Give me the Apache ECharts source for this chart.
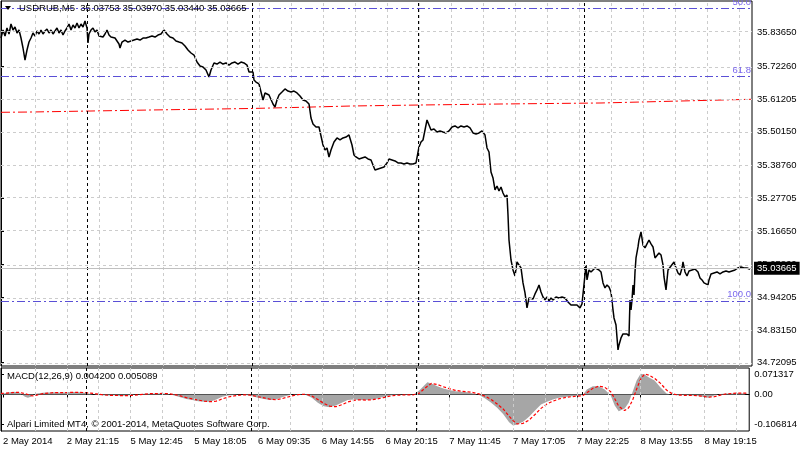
<!DOCTYPE html>
<html><head><meta charset="utf-8">
<script src="https://cdn.jsdelivr.net/npm/echarts@6/dist/echarts.min.js"></script>
<style>html,body{margin:0;padding:0;background:#fff}#c{width:800px;height:450px}</style>
</head><body><div id="c"></div>
<script>
// ---------- data ----------
const symbolTitle = 'USDRUB,M5  35.03753 35.03970 35.03440 35.03665';
const lastClose = 35.03665;
const tickLabels = ['2 May 2014','2 May 21:15','5 May 12:45','5 May 18:05','6 May 09:35','6 May 14:55','6 May 20:15','7 May 11:45','7 May 17:05','7 May 22:25','8 May 13:55','8 May 19:15'];
const tickBars = [2,66,130,194,258,322,386,450,514,578,642,706];
const daySeparatorBars = [86,251,417,583];
const priceTicks = [35.83650,35.72260,35.61205,35.50150,35.38760,35.27705,35.16650,35.05260,34.94205,34.83150,34.72095];
const macdTicks = [0.071317,0,-0.106814];
const fibLevels = [35.9183,35.6885,34.9311];
const fibLabels = ['50.0','61.8','100.0'];

const priceBars = [
 0,2,4,6,8,10,12,14,16,18,20,22,24,26,28,30,32,34,36,38,40,42,44,46,48,50,52,54,56,58,60,62,64,66,68,70,72,74,76,78,80,82,84,86,
 87,88,90,92,94,96,98,100,102,104,106,108,110,112,114,116,118,119,121,124,127,130,133,136,139,142,145,148,151,154,157,160,163,166,169,172,175,178,181,184,187,190,193,196,199,202,205,208,210,213,216,219,222,225,228,231,234,237,240,243,246,248,250,252,
 253,255,258,260,262,264,266,268,270,272,274,276,278,281,284,287,290,293,296,299,302,305,308,310,312,315,318,320,322,324,326,328,330,333,336,339,342,345,348,351,353,355,358,361,364,367,370,372,374,377,380,383,386,388,391,394,397,400,403,406,409,412,415,417,
 418,420,422,424,426,428,430,433,436,439,442,445,448,451,454,457,460,463,466,469,472,475,478,481,484,486,488,490,492,494,496,498,500,502,504,506,507,508,510,512,514,516,518,520,522,524,526,528,530,532,534,536,538,540,542,544,546,548,550,552,555,558,561,564,567,570,573,576,579,581,583,
 585,586,588,590,592,594,596,598,600,602,604,606,608,610,612,613,615,617,618,620,622,624,626,628,629,630,631,632,633,634,635,637,638,640,642,644,646,648,650,652,654,656,658,660,662,663,665,667,670,673,675,677,679,681,682,684,686,688,691,694,697,699,701,703,705,707,708,710,713,716,719,722,725,728,731,734,737,740,743,746,749
];
const priceValues = [
 35.8186,35.8456,35.8253,35.8524,35.8321,35.8659,35.8456,35.8557,35.8355,35.8456,35.8186,35.7848,35.7442,35.7780,35.8050,35.8186,35.8355,35.8253,35.8422,35.8321,35.8456,35.8321,35.8422,35.8490,35.8355,35.8456,35.8321,35.8422,35.8524,35.8355,35.8456,35.8287,35.8422,35.8524,35.8659,35.8456,35.8625,35.8524,35.8693,35.8524,35.8659,35.8557,35.8760,35.8524,
 35.8017,35.8321,35.8456,35.8524,35.8388,35.8456,35.8253,35.8186,35.8219,35.8321,35.8456,35.8287,35.8219,35.8253,35.8186,35.8219,35.7983,35.7848,35.8050,35.8118,35.8050,35.8084,35.8118,35.8152,35.8118,35.8186,35.8186,35.8219,35.8253,35.8219,35.8287,35.8321,35.8456,35.8321,35.8219,35.8186,35.8084,35.8050,35.8017,35.7915,35.7780,35.7679,35.7611,35.7374,35.7239,35.7205,35.7104,35.6867,35.7104,35.7341,35.7307,35.7374,35.7307,35.7341,35.7273,35.7341,35.7374,35.7307,35.7374,35.7341,35.7273,35.7036,35.6969,35.7036,
 35.6766,35.6698,35.6631,35.6597,35.6090,35.6327,35.6360,35.6259,35.6225,35.5955,35.5853,35.6090,35.6259,35.6360,35.6462,35.6394,35.6360,35.6394,35.6327,35.6225,35.6090,35.6056,35.5955,35.5482,35.5279,35.5177,35.5177,35.5144,35.4569,35.4400,35.4468,35.4163,35.4400,35.4670,35.4806,35.4738,35.4806,35.4839,35.4907,35.4569,35.4231,35.4163,35.4096,35.4130,35.4163,35.4096,35.4062,35.3893,35.3724,35.3758,35.3792,35.3825,35.3961,35.4096,35.4062,35.4028,35.3961,35.3961,35.3927,35.3961,35.3927,35.3927,35.3961,35.3961,
 35.4501,35.4670,35.4738,35.5076,35.5414,35.5245,35.5076,35.5110,35.5008,35.5042,35.5008,35.4975,35.5042,35.5177,35.5211,35.5144,35.5211,35.5177,35.5211,35.5144,35.4975,35.4941,35.4975,35.5042,35.4907,35.4468,35.4332,35.3656,35.3454,35.3048,35.3183,35.3014,35.3149,35.2947,35.2811,35.2879,35.2203,35.1358,35.0682,35.0344,35.0141,35.0614,35.0513,35.0412,34.9905,34.9567,34.9060,34.9398,34.9465,34.9364,34.9533,34.9668,34.9837,34.9600,34.9431,34.9330,34.9431,34.9296,34.9398,34.9330,34.9431,34.9398,34.9431,34.9398,34.9262,34.9161,34.9161,34.9161,34.9060,34.9195,34.9262,
 35.0513,35.0006,35.0344,35.0276,35.0344,35.0412,35.0412,35.0344,35.0276,34.9905,34.9736,34.9837,34.9769,34.9600,34.8992,34.8722,34.8485,34.7640,34.7809,34.8046,34.8181,34.8147,34.8181,34.8113,34.9330,34.8992,34.9330,34.9837,34.9499,35.0276,35.0750,35.1121,35.1358,35.1628,35.1189,35.1088,35.1223,35.1358,35.1223,35.1121,35.0750,35.0817,35.0919,35.0851,35.0513,35.0107,34.9668,35.0344,35.0479,35.0614,35.0412,35.0243,35.0175,35.0412,35.0614,35.0276,35.0141,35.0310,35.0344,35.0378,35.0276,35.0074,35.0006,34.9905,34.9871,34.9837,35.0006,35.0209,35.0243,35.0276,35.0209,35.0276,35.0310,35.0276,35.0310,35.0344,35.0412,35.0445,35.0412,35.0412,35.03665
];

const maBars = [0,30,90,150,250,300,350,420,500,600,680,750];
const maValues = [35.5674,35.5684,35.5718,35.5752,35.5803,35.5843,35.5887,35.5921,35.5955,35.5989,35.6056,35.6114];

const macdBars = [0,6,12,18,24,27,30,33,36,42,48,54,60,66,72,78,84,90,96,102,108,114,120,126,132,138,144,150,156,162,168,174,180,186,192,198,204,210,216,222,228,234,240,246,252,258,264,270,276,282,288,294,300,306,312,318,324,330,336,342,348,354,360,366,372,378,384,390,396,402,408,414,420,424,428,432,438,444,450,456,462,468,474,480,486,492,498,504,510,514,518,524,530,536,542,548,554,560,566,572,578,584,588,594,600,606,612,616,620,626,630,634,638,642,646,650,656,662,668,674,680,686,692,698,704,710,716,722,728,734,740,746,750];
const macdMain = [0.002,0.006,0.010,0.008,-0.008,-0.012,-0.008,0.000,0.004,0.006,0.007,0.008,0.006,0.008,0.009,0.008,0.006,0.002,-0.002,-0.003,-0.004,-0.003,-0.005,-0.004,-0.002,0.001,0.003,0.003,0.004,0.004,0.002,-0.004,-0.010,-0.016,-0.020,-0.024,-0.026,-0.026,-0.018,-0.008,-0.004,-0.002,0.000,-0.002,-0.006,-0.012,-0.016,-0.020,-0.018,-0.010,-0.004,0.001,0.002,-0.002,-0.012,-0.030,-0.042,-0.046,-0.040,-0.030,-0.020,-0.018,-0.020,-0.020,-0.018,-0.014,-0.008,-0.004,-0.002,-0.001,-0.002,-0.001,0.015,0.030,0.044,0.040,0.030,0.022,0.016,0.012,0.010,0.008,0.004,-0.002,-0.014,-0.030,-0.048,-0.070,-0.100,-0.112,-0.108,-0.098,-0.080,-0.058,-0.036,-0.026,-0.018,-0.012,-0.009,-0.006,-0.005,-0.002,0.018,0.030,0.030,0.018,-0.004,-0.040,-0.060,-0.050,-0.030,0.010,0.050,0.075,0.072,0.062,0.050,0.025,0.004,-0.002,-0.003,-0.002,-0.004,-0.004,-0.008,-0.012,-0.004,0.002,0.004,0.004,0.005,0.004,0.0042];
const macdSignal = [0.004,0.005,0.007,0.008,0.003,0.000,-0.004,-0.005,-0.002,0.003,0.005,0.007,0.007,0.007,0.008,0.008,0.007,0.005,0.002,-0.001,-0.003,-0.003,-0.004,-0.004,-0.003,-0.001,0.001,0.003,0.003,0.004,0.003,0.000,-0.005,-0.011,-0.016,-0.020,-0.024,-0.026,-0.024,-0.016,-0.009,-0.005,-0.002,-0.001,-0.003,-0.008,-0.012,-0.017,-0.019,-0.015,-0.009,-0.003,0.000,0.001,-0.005,-0.018,-0.032,-0.042,-0.044,-0.037,-0.027,-0.021,-0.019,-0.020,-0.019,-0.016,-0.011,-0.006,-0.003,-0.002,-0.001,-0.001,0.005,0.018,0.030,0.040,0.036,0.028,0.021,0.015,0.012,0.010,0.007,0.002,-0.006,-0.018,-0.034,-0.052,-0.078,-0.094,-0.106,-0.104,-0.092,-0.072,-0.050,-0.034,-0.024,-0.016,-0.011,-0.008,-0.006,-0.004,0.006,0.022,0.030,0.026,0.010,-0.015,-0.042,-0.058,-0.048,-0.020,0.020,0.055,0.074,0.070,0.058,0.040,0.016,0.002,-0.002,-0.003,-0.003,-0.004,-0.006,-0.010,-0.008,-0.002,0.002,0.004,0.005,0.005,0.005089];

// ---------- build ----------
const FONT = 'Liberation Sans';
const FS = 9.5;
const zip = (a, b) => a.map((x, i) => [x, b[i]]);
const gridBars = [];
for (let b = 34; b < 751; b += 32) gridBars.push(b);

const grayDash = {color: '#cccccc', type: [3, 3], width: 1};
const blackDash = {color: '#000', type: [3, 3], width: 1};

const mainGuides = [].concat(
  gridBars.map(b => ({xAxis: b, lineStyle: grayDash})),
  priceTicks.map(v => ({yAxis: v, lineStyle: grayDash})),
  daySeparatorBars.map(b => ({xAxis: b, lineStyle: blackDash}))
);
const macdGuides = [].concat(
  gridBars.map(b => ({xAxis: b, lineStyle: grayDash})),
  daySeparatorBars.map(b => ({xAxis: b, lineStyle: blackDash}))
);
const fibMarks = fibLevels.map((v, i) => ({
  yAxis: v,
  lineStyle: {color: '#5a4fd6', type: [8, 3, 2, 3], width: 1},
  label: {show: true, formatter: fibLabels[i], position: 'insideEndTop', distance: 1,
          color: '#7b68ee', fontFamily: FONT, fontSize: FS}
}));
const lastMark = {
  yAxis: lastClose,
  lineStyle: {color: '#c0c0c0', type: 'solid', width: 1},
  label: {show: true, formatter: lastClose.toFixed(5), position: 'end', distance: 2,
          backgroundColor: '#000', color: '#fff', padding: [2, 3, 1, 3],
          fontFamily: FONT, fontSize: FS}
};

const option = {
  animation: false,
  backgroundColor: '#fff',
  textStyle: {fontFamily: FONT},
  grid: [
    {left: 1, right: 48, top: 1, height: 365, show: true, borderColor: '#000', borderWidth: 1, backgroundColor: 'transparent'},
    {left: 1, right: 48, top: 368, height: 63, show: true, borderColor: '#000', borderWidth: 1, backgroundColor: 'transparent'}
  ],
  xAxis: [
    {gridIndex: 0, type: 'value', min: 0, max: 751, show: false},
    {gridIndex: 1, type: 'value', min: 0, max: 751,
     axisLine: {show: true, lineStyle: {color: '#000'}},
     axisTick: {show: true, customValues: tickBars, length: 3, lineStyle: {color: '#000'}},
     axisLabel: {customValues: tickBars, align: 'left', margin: 5, color: '#000', fontFamily: FONT, fontSize: FS,
                 formatter: v => tickLabels[tickBars.indexOf(v)] || ''},
     splitLine: {show: false}}
  ],
  yAxis: [
    {gridIndex: 0, type: 'value', position: 'right', min: 34.7097, max: 35.9437,
     axisLine: {show: true, lineStyle: {color: '#000'}},
     axisTick: {show: true, customValues: priceTicks, length: 3, lineStyle: {color: '#000'}},
     axisLabel: {customValues: priceTicks, margin: 5, color: '#000', fontFamily: FONT, fontSize: FS,
                 formatter: v => v.toFixed(5)},
     splitLine: {show: false}},
    {gridIndex: 1, type: 'value', position: 'right', min: -0.1314, max: 0.0954,
     axisLine: {show: true, lineStyle: {color: '#000'}},
     axisTick: {show: true, customValues: macdTicks, length: 3, lineStyle: {color: '#000'}},
     axisLabel: {customValues: macdTicks, margin: 5, color: '#000', fontFamily: FONT, fontSize: FS,
                 formatter: v => (v === 0 ? '0.00' : v.toFixed(6))},
     splitLine: {show: false}}
  ],
  series: [
    {type: 'line', xAxisIndex: 0, yAxisIndex: 0, data: [], z: 1, silent: true,
     markLine: {silent: true, symbol: 'none', animation: false, label: {show: false}, data: mainGuides}},
    {type: 'line', xAxisIndex: 1, yAxisIndex: 1, data: [], z: 1, silent: true,
     markLine: {silent: true, symbol: 'none', animation: false, label: {show: false}, data: macdGuides}},
    {type: 'line', xAxisIndex: 0, yAxisIndex: 0, data: [], z: 2, silent: true,
     markLine: {silent: true, symbol: 'none', animation: false, data: fibMarks.concat([lastMark])}},
    {name: 'MA', type: 'line', xAxisIndex: 0, yAxisIndex: 0, data: zip(maBars, maValues), z: 3,
     showSymbol: false, lineStyle: {color: '#ff0000', width: 1, type: [9, 3, 2, 3]}},
    {name: 'USDRUB', type: 'line', xAxisIndex: 0, yAxisIndex: 0, data: zip(priceBars, priceValues), z: 4,
     showSymbol: false, lineStyle: {color: '#000', width: 1.5}},
    {name: 'MACD', type: 'line', xAxisIndex: 1, yAxisIndex: 1, data: zip(macdBars, macdMain), z: 3,
     showSymbol: false, lineStyle: {width: 0, opacity: 0}, areaStyle: {color: '#a6a6a6', opacity: 1}},
    {name: 'Signal', type: 'line', xAxisIndex: 1, yAxisIndex: 1, data: zip(macdBars, macdSignal), z: 4,
     showSymbol: false, lineStyle: {color: '#ff0000', width: 1.2, type: [3, 2]}}
  ],
  graphic: [
    {type: 'polygon', shape: {points: [[5, 6], [11, 6], [8, 10]]}, style: {fill: '#000'}, z: 10},
    {type: 'text', left: 19, top: 3, z: 10, style: {text: symbolTitle, fill: '#000', font: FS + 'px "' + FONT + '"'}},
    {type: 'text', left: 7, top: 371, z: 10, style: {text: 'MACD(12,26,9) 0.004200 0.005089', fill: '#000', font: FS + 'px "' + FONT + '"'}},
    {type: 'text', left: 7, top: 419, z: 10, style: {text: 'Alpari Limited MT4, \u00a9 2001-2014, MetaQuotes Software Corp.', fill: '#000', font: FS + 'px "' + FONT + '"'}}
  ]
};
echarts.init(document.getElementById('c'), null, {renderer: 'canvas'}).setOption(option);
</script>
</body></html>
